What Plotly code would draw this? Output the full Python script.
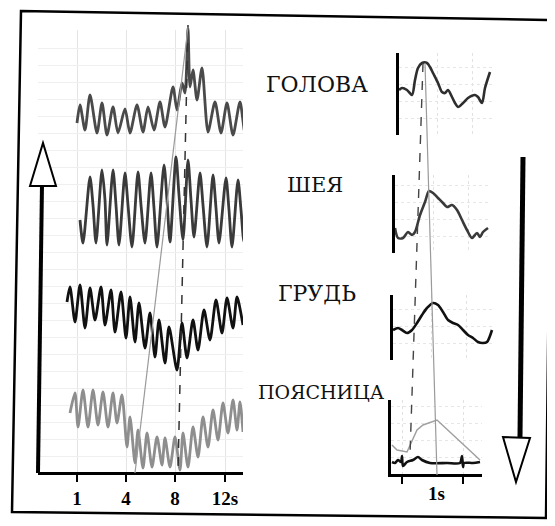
import plotly.graph_objects as go

# ---------------- data ----------------
# left panel: long recordings, time in chart units (tick spacing = 49)
tick_vals = [0, 49, 98, 148]
tick_text = ["1", "4", "8", "12s"]

t_head = [0, 3, 8, 13, 20, 25, 30, 36, 41, 48, 53, 60, 66, 71, 77, 83, 88, 96, 100, 105,
          108, 111, 113, 116, 120, 125, 131, 138, 144, 150, 156, 163, 168, 173, 178]
v_head = [-3, 15, -10, 25, -13, 17, -15, 13, -13, 11, -13, 15, -12, 13, -10, 18, -7, 33, 10, 37,
          27, 92, 33, 50, 20, 52, -12, 18, -13, 17, -15, 18, -13, 18, -13]

t_neck = [3, 6, 13, 16, 19, 25, 28, 30, 36, 39, 42, 48, 51, 55, 61, 64, 68, 74, 77, 80, 87, 90,
          93, 99, 102, 106, 111, 114, 117, 123, 126, 130, 136, 139, 142, 149, 152, 155, 161,
          164, 167, 173, 176, 181]
v_neck = [-10, -33, 33, 5, -33, 40, 10, -35, 40, 5, -35, 37, 5, -37, 38, 5, -33, 37, 2, -37, 45,
          10, -32, 53, 15, -30, 50, 10, -27, 37, 5, -37, 35, 2, -33, 32, 0, -37, 30, 0, -32, 33,
          0, -28]

t_chest = [-10, -7, -2, 3, 8, 13, 18, 24, 28, 34, 38, 44, 49, 53, 58, 62, 68, 73, 78, 82, 88,
           92, 100, 105, 110, 116, 121, 127, 133, 139, 145, 150, 156, 160, 166]
v_chest = [23, 38, 3, 40, -3, 37, 5, 38, 0, 35, -7, 33, -13, 28, -17, 22, -23, 12, -32, 5, -38,
           -2, -45, 2, -33, 5, -25, 15, -15, 25, -8, 27, -3, 28, 0]

t_lumbar = [-7, -2, 1, 6, 11, 16, 21, 26, 31, 36, 40, 45, 50, 53, 58, 61, 66, 70, 75, 80, 85,
            88, 93, 98, 103, 106, 111, 116, 121, 126, 131, 136, 141, 146, 151, 156, 160, 163, 166]
v_lumbar = [17, 37, 3, 40, 3, 40, 5, 38, 3, 37, 7, 35, -17, 13, -33, 0, -38, -3, -37, -7, -35,
            -8, -37, -7, -40, -3, -37, 3, -27, 13, -17, 20, -10, 27, -3, 30, 0, 28, -2]

# left guide lines (start/end time)
left_dashed_t = [111, 101]
left_delay_t = [111, 58]

# right panel: averaged 1 s windows
t_head_avg = [0, 3, 8, 13, 16, 19, 23, 28, 31, 34, 39, 43, 46, 49, 53, 56, 59, 64, 69, 76, 79, 83, 86, 91]
v_head_avg = [45, 47, 45, 40, 55, 67, 72, 72, 68, 62, 52, 43, 42, 45, 38, 32, 28, 32, 37, 40, 38, 32, 47, 63]

t_neck_avg = [0, 3, 8, 13, 17, 20, 25, 30, 34, 38, 43, 48, 52, 57, 62, 67, 72, 77, 82, 85, 88, 93]
v_neck_avg = [25, 15, 15, 21, 18, 21, 38, 51, 62, 60, 55, 50, 46, 48, 43, 33, 23, 15, 20, 16, 21, 25]

t_chest_avg = [0, 5, 9, 14, 19, 24, 29, 34, 40, 45, 50, 55, 60, 65, 70, 75, 80, 85, 90, 94, 99]
v_chest_avg = [30, 32, 30, 27, 30, 37, 45, 52, 57, 55, 48, 40, 37, 35, 30, 25, 22, 18, 17, 18, 30]

t_lumbar_avg = [1, 4, 7, 10, 11, 12, 16, 22, 27, 31, 39, 56, 69, 71, 72, 73, 82, 89]
v_lumbar_avg = [12, 11, 14, 12, 18, 8, 12, 14, 17, 14, 11, 11, 11, 18, 7, 11, 11, 12]

t_lumbar_env = [1, 6, 16, 26, 32, 46, 89]
v_lumbar_env = [29, 24, 22, 44, 49, 54, 14]

zoom_tick_vals = [11, 72]
zoom_scale_label = "1s"

right_dashed_t = [32, 19]
right_delay_t = [34, 46]

region_labels = ["ГОЛОВА", "ШЕЯ", "ГРУДЬ", "ПОЯСНИЦА"]

# ---------------- layout helpers ----------------
W, H = 555, 526
OFF = 8  # the page body margin shifts the figure by this many pixels


def fx(x):
    return (x - OFF) / W


def fy(y):
    return 1 - (y - OFF) / H


fig = go.Figure()

# grid-only subplot (drawn first, underneath everything)
fig.add_trace(go.Scatter(x=[None], y=[None], xaxis="x", yaxis="y", showlegend=False,
                         hoverinfo="skip"))

left_series = [
    (t_head, v_head, "#4a4a4a", (20, 210), [-90, 100]),
    (t_neck, v_neck, "#3a3a3a", (120, 300), [-90, 90]),
    (t_chest, v_chest, "#111111", (235, 415), [-90, 90]),
    (t_lumbar, v_lumbar, "#8e8e8e", (340, 473), [-43, 90]),
]

layout = dict(
    template="none",
    width=W, height=H, autosize=False,
    margin=dict(l=0, r=0, t=0, b=0, pad=0),
    paper_bgcolor="white", plot_bgcolor="rgba(0,0,0,0)",
    showlegend=False,
    xaxis=dict(domain=[fx(38), fx(243)], range=[-39, 166], anchor="free", position=fy(473),
               automargin=False,
               showline=True, linecolor="black", linewidth=3, ticks="outside", ticklen=7,
               tickwidth=2, tickcolor="black", tickvals=tick_vals,
               ticktext=["<b>%s</b>" % s for s in tick_text],
               tickfont=dict(family="Liberation Serif", size=19, color="black"),
               showgrid=True, gridcolor="#e4e4e4", gridwidth=1, zeroline=False),
    yaxis=dict(domain=[fy(473), fy(30)], range=[0, 443], anchor="x", showline=False,
               automargin=False,
               showgrid=True, gridcolor="#efefef", tick0=0, dtick=17, showticklabels=False,
               ticks="", zeroline=False),
)

for i, (t, v, col, (top, bot), yr) in enumerate(left_series):
    k = i + 2
    fig.add_trace(go.Scatter(x=t, y=v, mode="lines", xaxis="x%d" % k, yaxis="y%d" % k,
                             line=dict(color=col, width=2.8, shape="spline", smoothing=0.7),
                             showlegend=False))
    layout["xaxis%d" % k] = dict(domain=[fx(38), fx(243)], range=[-39, 166], visible=False,
                                 anchor="y%d" % k, automargin=False)
    layout["yaxis%d" % k] = dict(domain=[fy(bot), fy(top)], range=yr, visible=False,
                                 anchor="x%d" % k, automargin=False)

# right panels: (t, v, colour, x-domain px, y-domain px)
right_panels = [
    (t_head_avg, v_head_avg, "#2e2e2e", (399, 492), (53, 135)),
    (t_neck_avg, v_neck_avg, "#3a3a3a", (395, 490), (175, 253)),
    (t_chest_avg, v_chest_avg, "#111111", (393, 494), (295, 360)),
    (t_lumbar_avg, v_lumbar_avg, "#111111", (391, 482), (400, 474)),
]

for i, (t, v, col, (x0, x1), (y0, y1)) in enumerate(right_panels):
    k = i + 6
    last = i == 3
    if last:
        fig.add_trace(go.Scatter(x=t_lumbar_env, y=v_lumbar_env, mode="lines",
                                 xaxis="x%d" % k, yaxis="y%d" % k,
                                 line=dict(color="#a0a0a0", width=1.5), showlegend=False))
    fig.add_trace(go.Scatter(x=t, y=v, mode="lines", xaxis="x%d" % k, yaxis="y%d" % k,
                             line=dict(color=col, width=2.6, shape="spline", smoothing=0.8),
                             showlegend=False))
    xa = dict(domain=[fx(x0), fx(x1)], range=[0, x1 - x0], anchor="y%d" % k,
              automargin=False,
              zeroline=False, showgrid=True, gridcolor="#e2e2e2", griddash="dot",
              tickvals=zoom_tick_vals if last else [38, 73], showticklabels=False)
    if last:
        xa.update(showline=True, linecolor="black", linewidth=3, ticks="outside", ticklen=7,
                  tickwidth=2, tickcolor="black",
                  title=dict(text="<b>%s</b>" % zoom_scale_label, standoff=4,
                             font=dict(family="Liberation Serif", size=19, color="black")))
    else:
        xa.update(showline=False, ticks="")
    layout["xaxis%d" % k] = xa
    layout["yaxis%d" % k] = dict(domain=[fy(y1), fy(y0)], range=[0, y1 - y0],
                                 anchor="x%d" % k, showline=True, linecolor="black",
                                 automargin=False,
                                 linewidth=3, ticks="", showticklabels=False,
                                 showgrid=True, gridcolor="#e6e6e6", griddash="dot",
                                 dtick=17, zeroline=False)

fig.update_layout(**layout)

shapes = []
# guide lines, left panel
shapes.append(dict(type="line", xref="x", yref="paper", x0=left_dashed_t[0], y0=fy(25),
                   x1=left_dashed_t[1], y1=fy(472),
                   line=dict(color="#333333", width=1.5, dash="dash")))
shapes.append(dict(type="line", xref="x", yref="paper", x0=left_delay_t[0], y0=fy(27),
                   x1=left_delay_t[1], y1=fy(473), line=dict(color="#9a9a9a", width=1.2)))
# guide lines, right panels
shapes.append(dict(type="line", xref="x9", yref="paper", x0=right_dashed_t[0], y0=fy(63),
                   x1=right_dashed_t[1], y1=fy(455),
                   line=dict(color="#444444", width=1.4, dash="dash")))
shapes.append(dict(type="line", xref="x9", yref="paper", x0=right_delay_t[0], y0=fy(63),
                   x1=right_delay_t[1], y1=fy(475), line=dict(color="#9a9a9a", width=1.2)))


def path(points, close=True):
    s = "M " + " L ".join("%.5f,%.5f" % (fx(a), fy(b)) for a, b in points)
    return s + (" Z" if close else "")


# outer frame
shapes.append(dict(type="path", xref="paper", yref="paper",
                   path=path([(21, 11), (552, 20), (546, 518), (12, 512)]),
                   line=dict(color="black", width=2.5)))
# up arrow (left)
shapes.append(dict(type="line", xref="paper", yref="paper", x0=fx(42), y0=fy(184),
                   x1=fx(38), y1=fy(473), line=dict(color="black", width=4)))
shapes.append(dict(type="path", xref="paper", yref="paper",
                   path=path([(30, 186), (43, 143), (56, 186)]), fillcolor="white",
                   line=dict(color="black", width=2)))
# down arrow (right)
shapes.append(dict(type="line", xref="paper", yref="paper", x0=fx(523), y0=fy(157),
                   x1=fx(520), y1=fy(437), line=dict(color="black", width=5)))
shapes.append(dict(type="path", xref="paper", yref="paper",
                   path=path([(503, 437), (516, 482), (530, 438)]), fillcolor="white",
                   line=dict(color="black", width=2)))

label_pos = [(317, 84, 22), (315, 185, 21), (317, 293, 22), (321, 392, 19)]
annotations = []
for text, (x, y, s) in zip(region_labels, label_pos):
    annotations.append(dict(text=text, x=fx(x), y=fy(y), xref="paper", yref="paper",
                            xanchor="center", yanchor="middle", showarrow=False,
                            font=dict(family="DejaVu Serif", size=s, color="#111111")))

fig.update_layout(shapes=shapes, annotations=annotations)

fig.write_html("out.html")
